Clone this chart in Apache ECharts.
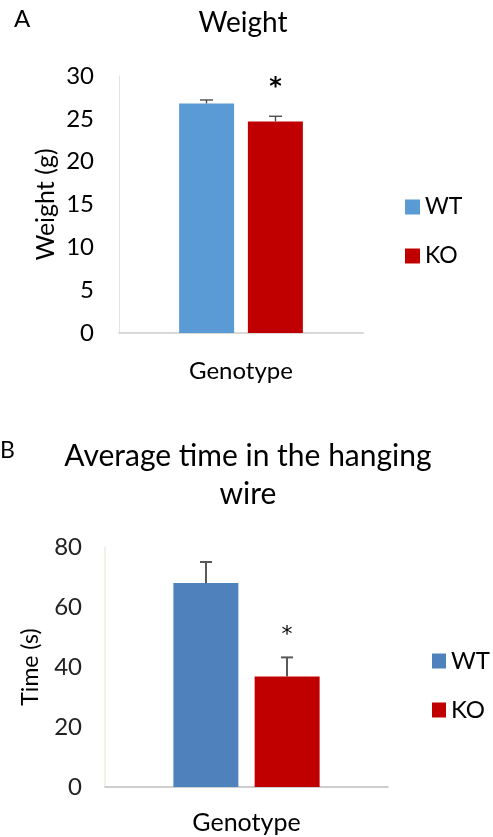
<!DOCTYPE html>
<html><head><meta charset="utf-8">
<script src="https://cdn.jsdelivr.net/npm/echarts@6/dist/echarts.min.js"></script>
<style>html,body{margin:0;padding:0;background:#fff;}#a{width:493px;height:400px;}#b{width:493px;height:437px;}</style>
</head><body><div id="a"></div><div id="b"></div>
<script>
// ---- data ----
const categories = ['Genotype'];
const seriesNames = ['WT', 'KO'];
const weightWT = [26.8];
const weightWTErr = [0.4];
const weightKO = [24.7];
const weightKOErr = [0.6];
const weightSig = ['', '*'];
const weightTicks = [0, 5, 10, 15, 20, 25, 30];
const timeWT = [68];
const timeWTErr = [7];
const timeKO = [36.8];
const timeKOErr = [6.4];
const timeSig = ['', '*'];
const timeTicks = [0, 20, 40, 60, 80];

const FONT = 'Lato, "Open Sans", sans-serif';
const STAR_FONT = '"DejaVu Sans", sans-serif';

function errSeries(vals, errs, offset, sig, color, lw, cap, sigGap, sigSize, sigWeight) {
  return {
    type: 'custom', z: 5, silent: true,
    data: vals.map((v, i) => [i, v, errs[i]]),
    encode: { x: 0, y: 1 },
    renderItem(params, api) {
      const c = api.coord([api.value(0), api.value(1)]);
      const t = api.coord([api.value(0), api.value(1) + api.value(2)]);
      const x = c[0] + offset;
      const children = [
        { type: 'line', shape: { x1: x, y1: c[1], x2: x, y2: t[1] }, style: { stroke: color, lineWidth: lw } },
        { type: 'line', shape: { x1: x - cap / 2, y1: t[1], x2: x + cap / 2, y2: t[1] }, style: { stroke: color, lineWidth: lw } }
      ];
      if (sig) children.push({ type: 'text', x: x, y: t[1] - sigGap,
        style: { text: sig, align: 'center', verticalAlign: 'middle', fontSize: sigSize, fontFamily: STAR_FONT, fontWeight: sigWeight, fill: '#000' } });
      return { type: 'group', children };
    }
  };
}

// ---- Chart A ----
const ca = echarts.init(document.getElementById('a'));
ca.setOption({
  animation: false,
  title: [
    { text: 'Weight', left: 243, top: 9, textAlign: 'center', padding: 0,
      textStyle: { fontFamily: FONT, fontSize: 28, fontWeight: 'normal', color: '#000' } },
    { text: 'A', left: 14, top: 7, padding: 0,
      textStyle: { fontFamily: FONT, fontSize: 24, fontWeight: 'normal', color: '#000' } }
  ],
  legend: {
    orient: 'vertical', left: 405, top: 195, padding: 0, itemGap: 25,
    itemWidth: 15, itemHeight: 15, icon: 'rect', data: seriesNames,
    textStyle: { fontFamily: FONT, fontSize: 23, lineHeight: 24, color: '#000' }
  },
  grid: { left: 119, top: 76, width: 244, height: 257 },
  xAxis: {
    type: 'category', data: categories,
    axisLine: { lineStyle: { color: '#d9d9d9', width: 2 } },
    axisTick: { show: false },
    axisLabel: { margin: 26, fontFamily: FONT, fontSize: 24, color: '#000' }
  },
  yAxis: {
    type: 'value', min: weightTicks[0], max: weightTicks[weightTicks.length - 1], interval: weightTicks[1] - weightTicks[0],
    name: 'Weight (g)', nameLocation: 'middle', nameGap: 61,
    nameTextStyle: { fontFamily: FONT, fontSize: 25, color: '#000' },
    axisLine: { show: true, lineStyle: { color: '#e3e3e3', width: 1 } },
    axisTick: { show: false }, splitLine: { show: false },
    axisLabel: { margin: 25, fontFamily: FONT, fontSize: 24, color: '#000' }
  },
  series: [
    { name: 'WT', type: 'bar', data: weightWT, barWidth: 55, barGap: '25%', itemStyle: { color: '#5b9bd5' } },
    { name: 'KO', type: 'bar', data: weightKO, barWidth: 55, barGap: '25%', itemStyle: { color: '#c00000' } },
    errSeries(weightWT, weightWTErr, -34.5, weightSig[0], '#404040', 1.3, 13, 28, 24, 'bold'),
    errSeries(weightKO, weightKOErr, 34.5, weightSig[1], '#404040', 1.3, 13, 28, 24, 'bold')
  ]
});

// ---- Chart B ----
const cb = echarts.init(document.getElementById('b'));
cb.setOption({
  animation: false,
  title: [
    { text: 'Average time in the hanging\nwire', left: 248, top: 37, textAlign: 'center', padding: 0,
      textStyle: { fontFamily: FONT, fontSize: 30, lineHeight: 38, fontWeight: 'normal', color: '#000' } },
    { text: 'B', left: 0, top: 39, padding: 0,
      textStyle: { fontFamily: FONT, fontSize: 23, fontWeight: 'normal', color: '#000' } }
  ],
  legend: {
    orient: 'vertical', left: 432, top: 249, padding: 0, itemGap: 25,
    itemWidth: 14, itemHeight: 15, icon: 'rect', data: seriesNames,
    textStyle: { fontFamily: FONT, fontSize: 24, lineHeight: 24, color: '#000' }
  },
  grid: { left: 105, top: 147, width: 283, height: 240 },
  xAxis: {
    type: 'category', data: categories,
    axisLine: { lineStyle: { color: '#bfbfbf', width: 1.5 } },
    axisTick: { show: false },
    axisLabel: { margin: 23, fontFamily: FONT, fontSize: 25, color: '#000' }
  },
  yAxis: {
    type: 'value', min: timeTicks[0], max: timeTicks[timeTicks.length - 1], interval: timeTicks[1] - timeTicks[0],
    name: 'Time (s)', nameLocation: 'middle', nameGap: 63,
    nameTextStyle: { fontFamily: FONT, fontSize: 23, color: '#000' },
    axisLine: { show: true, lineStyle: { color: '#eeece1', width: 1.5 } },
    axisTick: { show: false }, splitLine: { show: false },
    axisLabel: { margin: 23, fontFamily: FONT, fontSize: 24, color: '#222' }
  },
  series: [
    { name: 'WT', type: 'bar', data: timeWT, barWidth: 65, barGap: '25%', itemStyle: { color: '#4f81bd' } },
    { name: 'KO', type: 'bar', data: timeKO, barWidth: 65, barGap: '25%', itemStyle: { color: '#c00000' } },
    errSeries(timeWT, timeWTErr, -40.5, timeSig[0], '#595959', 2, 12, 22, 22, 'normal'),
    errSeries(timeKO, timeKOErr, 40.5, timeSig[1], '#595959', 2, 12, 22, 22, 'normal')
  ]
});
</script></body></html>
